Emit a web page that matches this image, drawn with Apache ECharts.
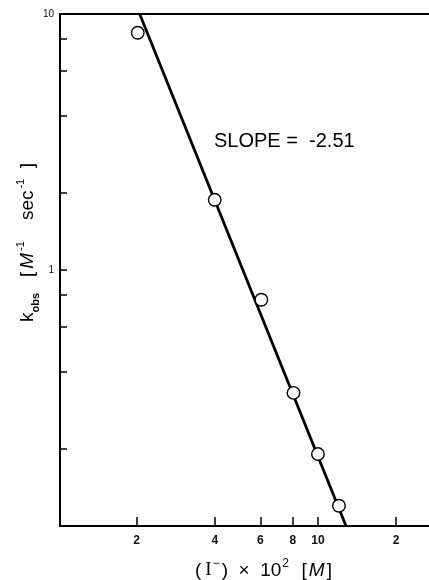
<!DOCTYPE html>
<html>
<head>
<meta charset="utf-8">
<script src="https://cdn.jsdelivr.net/npm/echarts@6/dist/echarts.min.js"></script>
<style>
html,body{margin:0;padding:0;background:#fff;}
#chart{width:429px;height:580px;}
</style>
</head>
<body>
<div id="chart"></div>
<script>
// [I-] x 10^2 (M)
const iodideConc = [2.02, 4.0, 6.05, 8.05, 10.0, 12.05];
// k_obs (M^-1 sec^-1)
const kObs = [8.45, 1.88, 0.765, 0.331, 0.191, 0.12];
// fitted line (slope -2.51) endpoints
const fitX = [2.055, 12.83];
const fitY = [10, 0.1];
// axis ticks and labels
const xTickValues = [2, 4, 6, 8, 10, 20];
const xTickLabels = ['2', '4', '6', '8', '10', '2'];
const yTickValues = [0.2, 0.4, 0.6, 0.8, 1, 2, 4, 6, 8];
const yLabelValues = [1, 10];
const yLabelTexts = ['1', '10'];
const slopeText = 'SLOPE =  -2.51';

const pointData = iodideConc.map((x, i) => [x, kObs[i]]);
const lineData = fitX.map((x, i) => [x, fitY[i]]);

function pick(vals, labels, v) {
  for (let i = 0; i < vals.length; i++) {
    if (Math.abs(vals[i] - v) / vals[i] < 1e-6) return labels[i];
  }
  return '';
}

const chart = echarts.init(document.getElementById('chart'), null, {renderer: 'canvas'});
const axisLineStyle = {color: '#000', width: 2};
const SANS = 'Liberation Sans, Arial, sans-serif';
const labelFont = {color: '#111', fontSize: 12, fontWeight: 'bold', fontFamily: SANS};

chart.setOption({
  animation: false,
  backgroundColor: '#fff',
  grid: {left: 60, right: 0, top: 14, bottom: 54},
  xAxis: [{
    type: 'log', logBase: 10, min: 1.013, max: 26.8,
    position: 'bottom',
    splitLine: {show: false},
    axisLine: {show: true, lineStyle: axisLineStyle},
    axisTick: {show: true, inside: true, length: 9, customValues: xTickValues, lineStyle: {color: '#000', width: 1.5}},
    axisLabel: Object.assign({show: true, margin: 9, customValues: xTickValues,
      formatter: v => pick(xTickValues, xTickLabels, v)}, labelFont),
    minorTick: {show: false}
  }, {
    type: 'log', logBase: 10, min: 1.013, max: 26.8,
    position: 'top',
    splitLine: {show: false},
    axisLine: {show: true, lineStyle: axisLineStyle},
    axisTick: {show: false},
    axisLabel: {show: false}
  }],
  yAxis: [{
    type: 'log', logBase: 10, min: 0.1, max: 10,
    position: 'left',
    splitLine: {show: false},
    axisLine: {show: true, lineStyle: axisLineStyle},
    axisTick: {show: true, inside: true, length: 7, customValues: yTickValues, lineStyle: {color: '#000', width: 1.5}},
    axisLabel: Object.assign({show: true, margin: 6, customValues: yLabelValues,
      formatter: v => pick(yLabelValues, yLabelTexts, v)}, labelFont, {fontWeight: 'normal', fontSize: 10})
  }],
  series: [{
    type: 'line',
    data: lineData,
    showSymbol: false,
    symbol: 'none',
    lineStyle: {color: '#000', width: 2.8},
    z: 2
  }, {
    type: 'scatter',
    data: pointData,
    symbol: 'circle',
    symbolSize: 12.5,
    itemStyle: {color: '#fff', borderColor: '#000', borderWidth: 1.4, opacity: 1},
    z: 3
  }],
  graphic: [{
    type: 'text',
    left: 214, top: 131,
    style: {text: slopeText, fill: '#000', font: '20px "Liberation Sans", Arial, sans-serif'}
  }, {
    type: 'text',
    x: 195, y: 558,
    style: {
      text: '{t|(}{r|I}{sp|−}{t|)}{t|  ×  }{t|10}{sp|2}{t|  [}{it|M}{t|]}',
      rich: {
        t: {fontSize: 19, fontFamily: SANS, fill: '#000', lineHeight: 22, verticalAlign: 'bottom'},
        r: {fontSize: 19, fontFamily: 'Liberation Serif, serif', fill: '#000', lineHeight: 22, verticalAlign: 'bottom', padding: [0, 0, 0, 4]},
        it: {fontSize: 19, fontFamily: SANS, fontStyle: 'italic', fill: '#000', lineHeight: 22, verticalAlign: 'bottom', padding: [0, 2, 0, 2]},
        sp: {fontSize: 12, fontFamily: SANS, fill: '#000', lineHeight: 22, verticalAlign: 'top', padding: [0, 2, 0, 1]}
      }
    }
  }, {
    type: 'text',
    x: 15, y: 322,
    rotation: Math.PI / 2,
    style: {
      text: '{t|k}{sb|obs}{t|   [}{it|M}{sp|-1}{t|    sec}{sp|-1}{t|  ]}',
      rich: {
        t: {fontSize: 19, fontFamily: SANS, fill: '#000', lineHeight: 26, verticalAlign: 'middle'},
        it: {fontSize: 19, fontFamily: SANS, fontStyle: 'italic', fill: '#000', lineHeight: 26, verticalAlign: 'middle', padding: [0, 0, 0, 3]},
        sp: {fontSize: 11, fontFamily: SANS, fill: '#000', lineHeight: 26, verticalAlign: 'top', padding: [0, 0, 0, 2]},
        sb: {fontSize: 11, fontWeight: 'bold', fontFamily: SANS, fill: '#000', lineHeight: 26, verticalAlign: 'bottom'}
      }
    }
  }]
});
</script>
</body>
</html>
